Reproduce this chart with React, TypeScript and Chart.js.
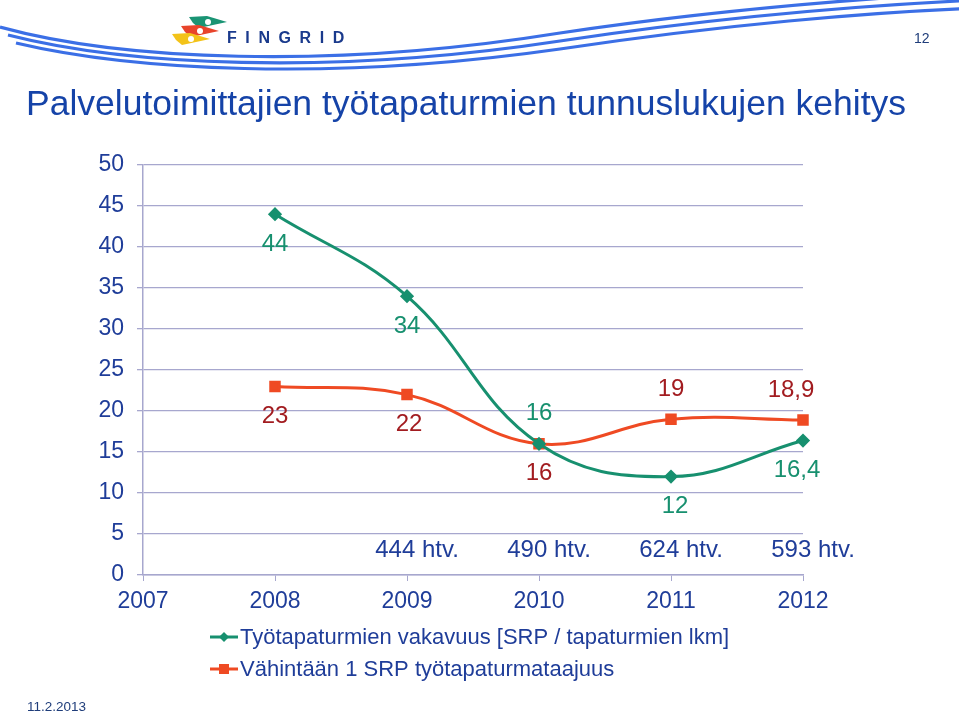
import React, { useEffect, useRef } from 'react';
import { Chart, registerables } from 'chart.js';

Chart.register(...registerables);

const categories = ['2007', '2008', '2009', '2010', '2011', '2012'];
const severity = [null, 44, 34, 16, 12, 16.4];
const frequency = [null, 23, 22, 16, 19, 18.9];
const htvLabels = ['', '', '444 htv.', '490 htv.', '624 htv.', '593 htv.'];
const seriesNames = [
  'Työtapaturmien vakavuus [SRP / tapaturmien lkm]',
  'Vähintään 1 SRP työtapaturmataajuus',
];
const titleText = 'Palvelutoimittajien työtapaturmien tunnuslukujen kehitys';
const pageNumber = '12';
const dateText = '11.2.2013';

const FONT = 'Arial, "Liberation Sans", sans-serif';
const BLUE = '#1F3D99';
const TITLE_BLUE = '#1543A8';
const GREEN = '#17906F';
const RED = '#EF4A23';
const RED_TEXT = '#A21C20';
const GRID = '#A7A7CE';

const decorPlugin = {
  id: 'decor',
  beforeDraw(chart: any) {
    const ctx = chart.ctx;
    ctx.save();
    ctx.fillStyle = '#ffffff';
    ctx.fillRect(0, 0, chart.width, chart.height);
    // swoosh lines
    ctx.strokeStyle = '#3B6FE6';
    ctx.lineWidth = 3.2;
    for (let i = 0; i < 3; i++) {
      ctx.beginPath();
      ctx.moveTo(i * 8, 27 + i * 8);
      ctx.bezierCurveTo(120 + i * 5, 60 + i * 5, 330, 70 + i * 6, 560, 33 + i * 8);
      ctx.bezierCurveTo(720, 9 + i * 8, 870, -2 + i * 7, 980, -8 + i * 8);
      ctx.stroke();
    }
    // flags
    const flags = [
      { x: 189, y: 17, c: '#1A9474' },
      { x: 181, y: 26, c: '#E8442B' },
      { x: 172, y: 34, c: '#F3C319' },
    ];
    for (const f of flags) {
      ctx.fillStyle = f.c;
      ctx.beginPath();
      ctx.moveTo(f.x, f.y);
      ctx.lineTo(f.x + 18, f.y - 1);
      ctx.lineTo(f.x + 38, f.y + 5);
      ctx.lineTo(f.x + 10, f.y + 11);
      ctx.lineTo(f.x + 4, f.y + 6);
      ctx.closePath();
      ctx.fill();
      ctx.fillStyle = '#ffffff';
      ctx.beginPath();
      ctx.arc(f.x + 19, f.y + 5, 3, 0, Math.PI * 2);
      ctx.fill();
    }
    ctx.fillStyle = '#1A3A8C';
    ctx.font = `bold 16px ${FONT}`;
    ctx.textBaseline = 'alphabetic';
    ctx.textAlign = 'left';
    (ctx as any).letterSpacing = '8.6px';
    ctx.fillText('FINGRID', 227, 43);
    (ctx as any).letterSpacing = '0px';
    // page number
    ctx.fillStyle = '#1F3D7A';
    ctx.font = `14px ${FONT}`;
    ctx.fillText(pageNumber, 914, 43);
    // title
    ctx.fillStyle = TITLE_BLUE;
    ctx.font = `35.5px ${FONT}`;
    ctx.fillText(titleText, 26, 115);
    // date
    ctx.font = `13.5px ${FONT}`;
    ctx.fillStyle = '#1F3D7A';
    ctx.fillText(dateText, 27, 711);
    ctx.restore();
  },
};

const labelPlugin = {
  id: 'valueLabels',
  afterDatasetsDraw(chart: any, _args: any, opts: any) {
    const ctx = chart.ctx;
    ctx.save();
    ctx.font = `24px ${FONT}`;
    ctx.textAlign = 'center';
    ctx.textBaseline = 'middle';
    chart.data.datasets.forEach((ds: any, di: number) => {
      const meta = chart.getDatasetMeta(di);
      const place = opts.placement[di];
      const dxs = opts.dx[di];
      ctx.fillStyle = opts.colors[di];
      meta.data.forEach((pt: any, i: number) => {
        const v = ds.data[i];
        if (v === null || v === undefined) return;
        const dy = place[i] === 'above' ? -opts.offset : opts.offset;
        ctx.fillText(String(v).replace('.', ','), pt.x + dxs[i], pt.y + dy);
      });
    });
    // htv labels
    const xs = chart.scales.x;
    const ys = chart.scales.y;
    ctx.fillStyle = BLUE;
    htvLabels.forEach((t, i) => {
      if (!t) return;
      ctx.fillText(t, xs.getPixelForValue(i) + 10, ys.getPixelForValue(3));
    });
    ctx.restore();
  },
};

const legendPlugin = {
  id: 'customLegend',
  afterDraw(chart: any) {
    const ctx = chart.ctx;
    ctx.save();
    chart.data.datasets.forEach((ds: any, i: number) => {
      const y = 637 + i * 32;
      ctx.strokeStyle = ds.borderColor;
      ctx.lineWidth = 3;
      ctx.beginPath();
      ctx.moveTo(210, y);
      ctx.lineTo(238, y);
      ctx.stroke();
      ctx.fillStyle = ds.borderColor;
      if (ds.pointStyle === 'rectRot') {
        ctx.beginPath();
        ctx.moveTo(224, y - 5);
        ctx.lineTo(229, y);
        ctx.lineTo(224, y + 5);
        ctx.lineTo(219, y);
        ctx.closePath();
        ctx.fill();
      } else {
        ctx.fillRect(219, y - 5, 10, 10);
      }
      ctx.fillStyle = BLUE;
      ctx.font = `22px ${FONT}`;
      ctx.textAlign = 'left';
      ctx.textBaseline = 'middle';
      ctx.fillText(ds.label, 240, y + 1);
    });
    ctx.restore();
  },
};

export default function App() {
  const ref = useRef<HTMLCanvasElement>(null);
  useEffect(() => {
    document.body.style.margin = '0';
    const chart = new Chart(ref.current as HTMLCanvasElement, {
      type: 'line',
      data: {
        labels: categories,
        datasets: [
          {
            label: seriesNames[0],
            data: severity,
            borderColor: GREEN,
            backgroundColor: GREEN,
            borderWidth: 3,
            pointStyle: 'rectRot',
            pointRadius: 5,
            tension: 0.4,
            clip: false,
          },
          {
            label: seriesNames[1],
            data: frequency,
            borderColor: RED,
            backgroundColor: RED,
            borderWidth: 3,
            pointStyle: 'rect',
            pointRadius: 6,
            tension: 0.4,
            clip: false,
          },
        ],
      } as any,
      options: {
        responsive: false,
        animation: false,
        devicePixelRatio: 1,
        layout: { padding: { left: 0, top: 165, right: 156, bottom: 100 } },
        plugins: {
          legend: { display: false },
          tooltip: { enabled: false },
          valueLabels: {
            offset: 30,
            colors: [GREEN, RED_TEXT],
            placement: [
              ['', 'below', 'below', 'above', 'below', 'below'],
              ['', 'below', 'below', 'below', 'above', 'above'],
            ],
            dx: [
              [0, 0, 0, 0, 4, -6],
              [0, 0, 2, 0, 0, -12],
            ],
          },
        } as any,
        scales: {
          x: {
            offset: false,
            grid: { drawOnChartArea: false, drawTicks: true, tickLength: 6, color: GRID },
            border: { color: GRID, width: 1.5 },
            ticks: { color: BLUE, font: { size: 23, family: FONT }, padding: 7, maxRotation: 0 },
            afterFit: (s: any) => { s.height = 40; },
          },
          y: {
            min: 0,
            max: 50,
            grid: { color: GRID, tickLength: 6, lineWidth: 1.3 },
            border: { color: GRID, width: 1.5 },
            ticks: { stepSize: 5, color: BLUE, font: { size: 23, family: FONT }, padding: 13 },
            afterFit: (s: any) => { s.width = 143; },
          },
        },
      },
      plugins: [decorPlugin, labelPlugin, legendPlugin],
    });
    return () => chart.destroy();
  }, []);
  return (
    <div style={{ width: 959, height: 715 }}>
      <canvas ref={ref} width={959} height={715} style={{ display: 'block' }} />
    </div>
  );
}
